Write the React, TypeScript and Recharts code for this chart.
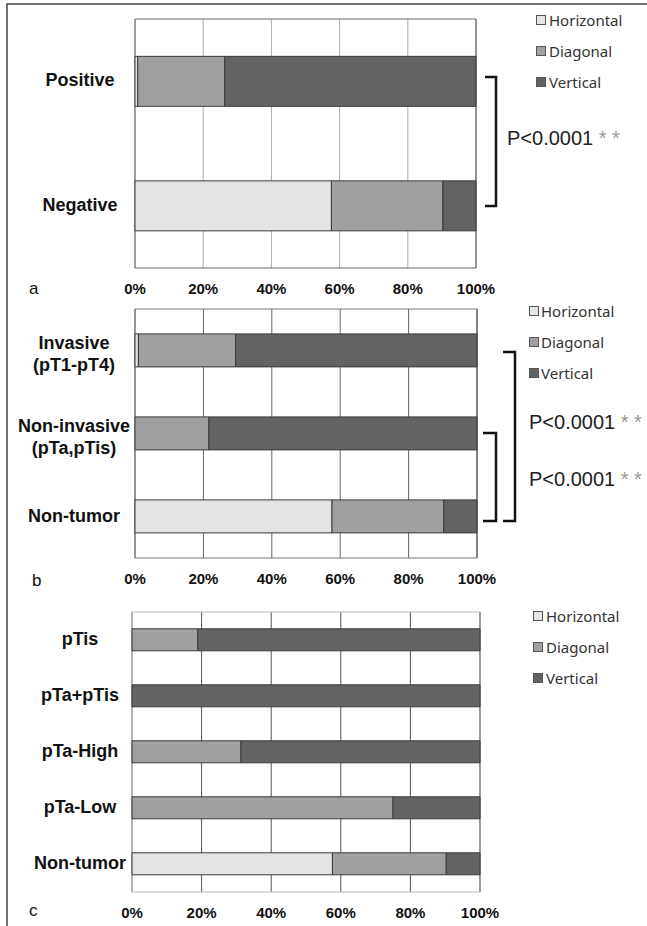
import React from 'react';
import { BarChart, Bar, XAxis, YAxis, CartesianGrid, Legend } from 'recharts';

const SERIES = ['Horizontal', 'Diagonal', 'Vertical'];
const SERIES_COLORS = ['#e4e4e4', '#a0a0a0', '#636363'];
const PCT_TICKS = [0, 20, 40, 60, 80, 100];

// a: positive vs negative
const statusLabels = ['Positive', 'Negative'];
const statusHorizontal = [0.8, 57.6];
const statusDiagonal = [25.5, 32.7];
const statusVertical = [73.7, 9.7];

// b: invasive / non-invasive / non-tumor
const invasionLabels = ['Invasive\n(pT1-pT4)', 'Non-invasive\n(pTa,pTis)', 'Non-tumor'];
const invasionHorizontal = [1.0, 0, 57.6];
const invasionDiagonal = [28.4, 21.6, 32.7];
const invasionVertical = [70.6, 78.4, 9.7];

// c: by stage
const stageLabels = ['pTis', 'pTa+pTis', 'pTa-High', 'pTa-Low', 'Non-tumor'];
const stageHorizontal = [0, 0, 0, 0, 57.6];
const stageDiagonal = [18.9, 0, 31.3, 75.0, 32.7];
const stageVertical = [81.1, 100, 68.7, 25.0, 9.7];

const toRows = (labels: string[], h: number[], d: number[], v: number[]) =>
  labels.map((name, i) => ({ name, Horizontal: h[i], Diagonal: d[i], Vertical: v[i] }));

const W = 647;
const PAD_TOP = 10;
const AXIS_H = 34;
const BOLD = '"Liberation Sans", Arial, sans-serif';

const PctTick = (props: any) => {
  const { x, y, payload } = props;
  return (
    <text x={x} y={y + 26} textAnchor="middle" fontFamily={BOLD} fontWeight="bold" fontSize={15} fill="#111">
      {payload.value}%
    </text>
  );
};

const CatTick = (props: any) => {
  const { y, payload, labelX } = props;
  const lines = String(payload.value).split('\n');
  if (lines.length === 1) {
    return (
      <text x={labelX} y={y + 5} textAnchor="middle" fontFamily={BOLD} fontWeight="bold" fontSize={18} fill="#111">
        {lines[0]}
      </text>
    );
  }
  return (
    <text textAnchor="middle" fontFamily={BOLD} fontWeight="bold" fontSize={18} fill="#111">
      <tspan x={labelX} y={y - 2}>{lines[0]}</tspan>
      <tspan x={labelX} y={y + 20}>{lines[1]}</tspan>
    </text>
  );
};

const LegendBox = ({ gap }: { gap: number }) => (
  <div style={{ fontFamily: '"Noto Sans", sans-serif', fontSize: 15, color: '#333' }}>
    {SERIES.map((s, i) => (
      <div key={s} style={{ height: 31, display: 'flex', alignItems: 'center' }}>
        <span
          style={{
            display: 'inline-block',
            width: 10,
            height: 10,
            boxSizing: 'border-box',
            border: '1px solid #555',
            background: SERIES_COLORS[i],
            marginRight: gap,
          }}
        />
        <span>{s}</span>
      </div>
    ))}
  </div>
);

interface PanelProps {
  rows: any[];
  plotTop: number;
  plotBottom: number;
  plotLeft: number;
  plotRight: number;
  labelX: number;
  gridColor: string;
  borderColor: string;
  legendX: number;
  legendY: number;
  legendGap: number;
}

const Panel = ({ rows, plotTop, plotBottom, plotLeft, plotRight, labelX, gridColor, borderColor, legendX, legendY, legendGap }: PanelProps) => {
  const top = plotTop - PAD_TOP;
  const height = plotBottom - plotTop + PAD_TOP + AXIS_H;
  return (
    <div style={{ position: 'absolute', left: 0, top }}>
      <BarChart
        width={W}
        height={height}
        data={rows}
        layout="vertical"
        barCategoryGap="30%"
        margin={{ top: PAD_TOP, right: W - plotRight, bottom: 0, left: 0 }}
      >
        <CartesianGrid horizontal={false} stroke={gridColor} />
        <CartesianGrid
          stroke={borderColor}
          horizontalCoordinatesGenerator={({ offset }: any) => [offset.top, offset.top + offset.height]}
          verticalCoordinatesGenerator={({ offset }: any) => [offset.left, offset.left + offset.width]}
        />
        <XAxis
          type="number"
          domain={[0, 100]}
          ticks={PCT_TICKS}
          interval={0}
          height={AXIS_H}
          axisLine={false}
          tickLine={false}
          tickSize={0}
          tickMargin={0}
          tick={<PctTick />}
        />
        <YAxis
          type="category"
          dataKey="name"
          width={plotLeft}
          interval={0}
          axisLine={false}
          tickLine={false}
          tickSize={0}
          tick={(p: any) => <CatTick {...p} labelX={labelX} />}
        />
        {SERIES.map((s, i) => (
          <Bar key={s} dataKey={s} stackId="a" fill={SERIES_COLORS[i]} stroke="#3a3a3a" strokeWidth={1} isAnimationActive={false} />
        ))}
        <Legend
          layout="vertical"
          align="center"
          verticalAlign="middle"
          wrapperStyle={{ left: legendX, top: legendY - 15.5 - top, width: 110, height: 93 }}
          content={() => <LegendBox gap={legendGap} />}
        />
      </BarChart>
    </div>
  );
};

const PText = ({ x, y }: { x: number; y: number }) => (
  <text x={x} y={y} fontFamily={BOLD} fontSize={20} fill="#222">
    P&lt;0.0001 <tspan fill="#999">* *</tspan>
  </text>
);

export default function App() {
  return (
    <div style={{ position: 'absolute', left: 0, top: 0, width: W, height: 926, background: '#fff', overflow: 'hidden' }}>
      <Panel
        rows={toRows(statusLabels, statusHorizontal, statusDiagonal, statusVertical)}
        plotTop={19}
        plotBottom={268}
        plotLeft={135}
        plotRight={476}
        labelX={80}
        gridColor="#b0b0b0"
        borderColor="#666"
        legendX={536}
        legendY={20}
        legendGap={3}
      />
      <Panel
        rows={toRows(invasionLabels, invasionHorizontal, invasionDiagonal, invasionVertical)}
        plotTop={309}
        plotBottom={558}
        plotLeft={135}
        plotRight={477}
        labelX={74}
        gridColor="#666"
        borderColor="#777"
        legendX={529}
        legendY={311}
        legendGap={2}
      />
      <Panel
        rows={toRows(stageLabels, stageHorizontal, stageDiagonal, stageVertical)}
        plotTop={612}
        plotBottom={892}
        plotLeft={132}
        plotRight={480}
        labelX={80}
        gridColor="#555"
        borderColor="#bbb"
        legendX={533}
        legendY={616}
        legendGap={3}
      />
      <svg width={W} height={926} style={{ position: 'absolute', left: 0, top: 0, pointerEvents: 'none' }}>
        <path d="M7 926 V4 H647" fill="none" stroke="#444" strokeWidth={1.5} />
        <g fontFamily={BOLD} fontSize={17} fill="#111">
          <text x={29} y={294}>a</text>
          <text x={32} y={586}>b</text>
          <text x={29} y={916}>c</text>
        </g>
        <g fill="none" stroke="#111" strokeWidth={2.5}>
          <path d="M485 77 H496 V206 H485" />
          <path d="M503 352 H515 V521 H503" />
          <path d="M483 433 H496 V521 H483" />
        </g>
        <PText x={507} y={145} />
        <PText x={529} y={429} />
        <PText x={529} y={486} />
      </svg>
    </div>
  );
}
